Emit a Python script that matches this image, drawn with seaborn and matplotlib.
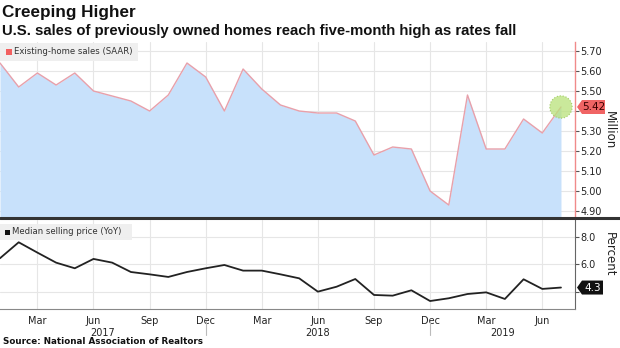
import numpy as np
import pandas as pd
import matplotlib
matplotlib.use("Agg")
import matplotlib.pyplot as plt
from matplotlib.patches import Rectangle, Polygon
from matplotlib.lines import Line2D
import seaborn as sns

# ---------------- data ----------------
months = ["2017-01", "2017-02", "2017-03", "2017-04", "2017-05", "2017-06",
          "2017-07", "2017-08", "2017-09", "2017-10", "2017-11", "2017-12",
          "2018-01", "2018-02", "2018-03", "2018-04", "2018-05", "2018-06",
          "2018-07", "2018-08", "2018-09", "2018-10", "2018-11", "2018-12",
          "2019-01", "2019-02", "2019-03", "2019-04", "2019-05", "2019-06",
          "2019-07"]
sales = [5.64, 5.52, 5.59, 5.53, 5.59, 5.50, 5.475, 5.45, 5.40, 5.48, 5.64, 5.57,
         5.40, 5.61, 5.51, 5.43, 5.40, 5.39, 5.39, 5.35, 5.18, 5.22, 5.21, 5.00,
         4.93, 5.48, 5.21, 5.21, 5.36, 5.29, 5.42]
price = [6.43, 7.59, 6.84, 6.11, 5.70, 6.38, 6.11, 5.43, 5.26, 5.07, 5.43, 5.70,
         5.94, 5.53, 5.53, 5.26, 4.97, 4.00, 4.36, 4.92, 3.76, 3.71, 4.10, 3.32,
         3.52, 3.83, 3.95, 3.47, 4.90, 4.20, 4.30]
sales_ticks = [4.90, 5.00, 5.10, 5.20, 5.30, 5.40, 5.50, 5.60, 5.70]
price_ticks = [4.0, 6.0, 8.0]
month_labels = {"03": "Mar", "06": "Jun", "09": "Sep", "12": "Dec"}
years = ["2017", "2018", "2019"]

title = "Creeping Higher"
subtitle = "U.S. sales of previously owned homes reach five-month high as rates fall"
source = "Source: National Association of Realtors"

df = pd.DataFrame({"month": months, "sales": sales, "price": price})
df["x"] = np.arange(len(df))

# ---------------- style ----------------
sns.set_style("white")
plt.rcParams["font.family"] = ["DejaVu Sans"]

W, H = 620, 348
fig = plt.figure(figsize=(W / 100, H / 100), dpi=100)


def fx(px):
    return px / W


def fy(py):
    return 1 - py / H


XMAX = 30.75
ax1 = fig.add_axes([0, fy(218), fx(575), (218 - 42) / H])
ax2 = fig.add_axes([0, fy(309), fx(575), (309 - 220) / H])

grid_c = "#e6e6e6"
quarter_idx = [i for i, m in enumerate(months) if m[5:] in month_labels]

# ---------- top panel ----------
ylo1, yhi1 = 4.865, 5.745
ax1.fill_between(df["x"], df["sales"], ylo1, color="#c8e1fb", lw=0, zorder=1)
sns.lineplot(data=df, x="x", y="sales", ax=ax1, color="#e8a0aa", lw=1.0, zorder=2)
ax1.set_xlim(0, XMAX)
ax1.set_ylim(ylo1, yhi1)
ax1.yaxis.tick_right()
ax1.set_yticks(sales_ticks)
# the label under the value badge is hidden by the badge in the original
ax1.set_yticklabels(["" if abs(v - round(sales[-1], 1)) < 1e-9 else f"{v:.2f}"
                     for v in sales_ticks])
ax1.set_xticks(quarter_idx)
ax1.tick_params(axis="x", length=0, labelbottom=False)
ax1.tick_params(axis="y", length=3, width=0.8, color="#555555", labelsize=7,
                pad=1, labelcolor="#222222")
ax1.grid(True, color=grid_c, lw=0.8)
ax1.set_axisbelow(True)
for s in ["top", "left", "bottom"]:
    ax1.spines[s].set_visible(False)
ax1.spines["right"].set_color("#f08a8a")
ax1.spines["right"].set_linewidth(1.0)
ax1.set_xlabel("")
ax1.set_ylabel("")
fig.text(fx(609), fy(130), "Million", rotation=270, ha="center", va="center",
         fontsize=8.5, color="#222222")

# green highlight circle
ax1.scatter([df["x"].iloc[-1]], [df["sales"].iloc[-1]], s=260, color="#b9e27a",
            alpha=0.75, edgecolor="#8fc24a", linewidths=0.8, linestyle=":",
            zorder=5, clip_on=False)

# ---------- bottom panel ----------
ylo2, yhi2 = 2.74, 9.21
sns.lineplot(data=df, x="x", y="price", ax=ax2, color="#222222", lw=1.3, zorder=2)
ax2.set_xlim(0, XMAX)
ax2.set_ylim(ylo2, yhi2)
ax2.yaxis.tick_right()
ax2.set_yticks(price_ticks)
ax2.set_yticklabels(["" if abs(v - round(price[-1])) < 1e-9 else f"{v:.1f}"
                     for v in price_ticks])
ax2.set_xticks(quarter_idx)
ax2.set_xticklabels([month_labels[months[i][5:]] for i in quarter_idx])
ax2.set_xticks(range(len(months)), minor=True)
ax2.tick_params(axis="x", which="both", length=3, width=0.8, color="#777777",
                labelsize=7, pad=2, labelcolor="#222222")
ax2.tick_params(axis="y", length=3, width=0.8, color="#555555", labelsize=7,
                pad=1, labelcolor="#222222")
ax2.grid(True, which="major", color=grid_c, lw=0.8)
ax2.set_axisbelow(True)
for s in ["top", "left"]:
    ax2.spines[s].set_visible(False)
ax2.spines["right"].set_color("#666666")
ax2.spines["right"].set_linewidth(0.8)
ax2.spines["bottom"].set_color("#888888")
ax2.spines["bottom"].set_linewidth(0.8)
ax2.set_xlabel("")
ax2.set_ylabel("")
fig.text(fx(609), fy(254), "Percent", rotation=270, ha="center", va="center",
         fontsize=8.5, color="#222222")

# year labels and separators
trans = ax2.get_xaxis_transform()
dec_idx = [months.index(f"{y}-12") for y in years if f"{y}-12" in months]
bounds = [0] + dec_idx + [XMAX]
for i, y in enumerate(years):
    c = (bounds[i] + bounds[i + 1]) / 2
    ax2.text(c, -0.27, y, transform=trans, ha="center", va="center",
             fontsize=7, color="#222222", clip_on=False)
for d in dec_idx:
    ax2.add_line(Line2D([d, d], [-0.135, -0.29], transform=trans, color="#bbbbbb",
                        lw=0.8, clip_on=False))

# separator line between panels
fig.add_artist(Line2D([0, 1], [fy(218), fy(218)], transform=fig.transFigure,
                      color="#333333", lw=2.2))

# legends
fig.add_artist(Rectangle((0, fy(61)), fx(138), (61 - 43) / H, transform=fig.transFigure,
                         facecolor="#efefef", edgecolor="none", alpha=0.95, zorder=6))
fig.add_artist(Rectangle((fx(6), fy(55)), fx(6), 6 / H, transform=fig.transFigure,
                         facecolor="#f26060", edgecolor="none", zorder=7))
fig.text(fx(14), fy(52), "Existing-home sales (SAAR)", fontsize=6.1, color="#333333",
         va="center", ha="left", zorder=8)

fig.add_artist(Rectangle((0, fy(240)), fx(132), (240 - 224) / H, transform=fig.transFigure,
                         facecolor="#efefef", edgecolor="none", alpha=0.95, zorder=6))
fig.add_artist(Rectangle((fx(5), fy(235)), fx(5), 5 / H, transform=fig.transFigure,
                         facecolor="#111111", edgecolor="none", zorder=7))
fig.text(fx(12), fy(232), "Median selling price (YoY)", fontsize=6.1, color="#333333",
         va="center", ha="left", zorder=8)

# value badges (pixel coordinates derived from data through the axes transforms)
fig.canvas.draw()


def badge(ax, val, label, face, txt, width):
    ypix = ax.transData.transform((0, val))[1]
    x0 = ax.transAxes.transform((1, 0))[0] + 2
    hh = 7
    pts = [(x0, ypix), (x0 + 5, ypix + hh), (x0 + width, ypix + hh),
           (x0 + width, ypix - hh), (x0 + 5, ypix - hh)]
    fig.add_artist(Polygon(pts, closed=True, transform=None, facecolor=face,
                           edgecolor="none", zorder=9))
    fig.text((x0 + (5 + width) / 2) / W, ypix / H, label, fontsize=7.5, color=txt,
             ha="center", va="center", zorder=10)


badge(ax1, sales[-1], f"{sales[-1]:.2f}", "#f06464", "#3a0000", 28)
badge(ax2, price[-1], f"{price[-1]:.1f}", "#111111", "#ffffff", 26)

# titles
fig.text(fx(2), fy(13), title, fontsize=12.3, fontweight="bold", family="Liberation Sans",
         color="#111111", ha="left", va="center")
fig.text(fx(2), fy(31), subtitle, fontsize=10.7, fontweight="bold", family="Liberation Sans",
         color="#111111", ha="left", va="center")
fig.text(fx(3), fy(342), source, fontsize=6.3, fontweight="bold", color="#111111",
         ha="left", va="center")

fig.savefig("out.png", dpi=100)
